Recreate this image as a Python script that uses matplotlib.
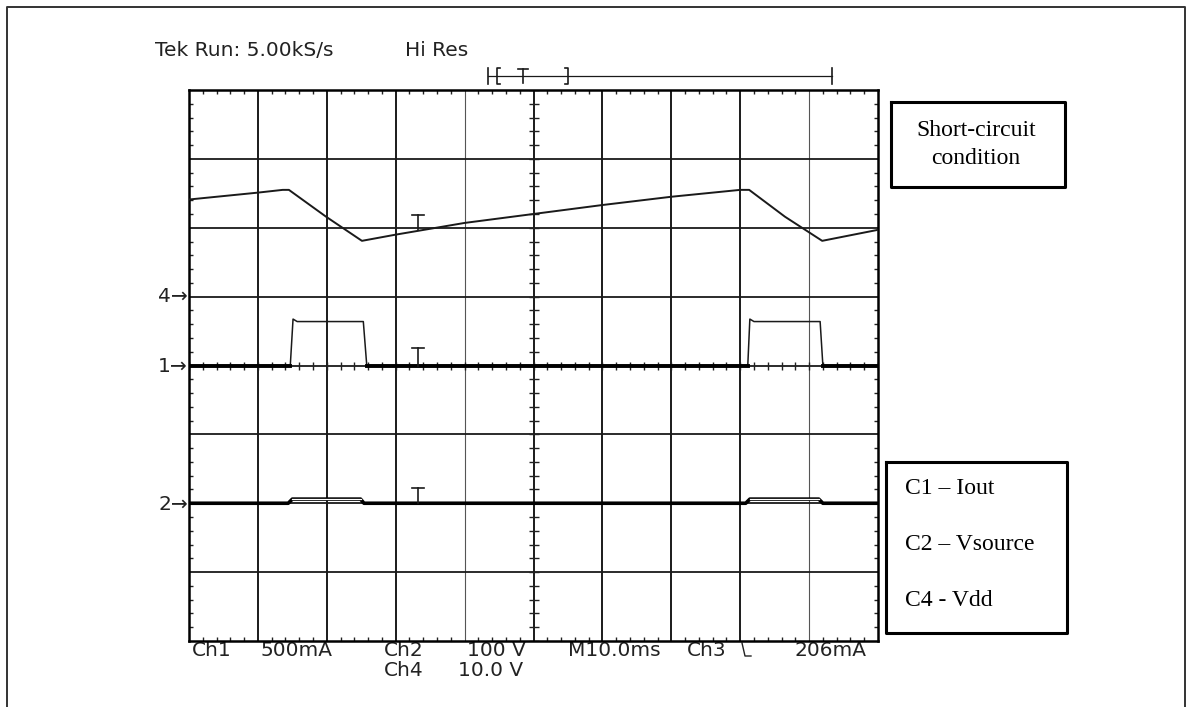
import matplotlib.pyplot as plt
import numpy as np

# scope settings
time_per_div = 10.0          # ms / div
ch4_scale, ch4_offset = 10.0, 1.0    # V/div, ground marker (div)
ch1_scale, ch1_offset = 500.0, 0.0   # mA/div
ch2_scale, ch2_offset = 100.0, -2.0  # V/div

# C4 - Vdd (triangle-like trace)
ch4_t = [0, 10.0, 13.6, 14.5, 19.9, 25.1, 30.0, 40.0, 50.0, 60.0, 70.0, 80.0, 81.3, 86.5, 91.9, 100.0]
ch4_v = [14.1, 15.1, 15.5, 15.5, 11.6, 8.1, 9.0, 10.7, 12.0, 13.3, 14.5, 15.5, 15.5, 11.6, 8.1, 9.7]

# C1 - Iout (pulses)
ch1_t = [0, 14.7, 15.1, 15.7, 25.3, 25.8, 81.1, 81.4, 82.0, 91.6, 92.0, 100.0]
ch1_i = [0, 0, 337, 319, 319, 0, 0, 337, 319, 319, 0, 0]

# C2 - Vsource (small bumps)
ch2_t = [0, 14.4, 15.0, 24.9, 25.4, 80.8, 81.4, 91.4, 92.0, 100.0]
ch2_v = [0, 0, 6, 6, 0, 0, 6, 6, 0, 0]

# trigger marks
trig_t = 33.2
trig_bottom = [1.97, 0.0, -2.0]
trig_top = [2.18, 0.26, -1.78]

top_labels = ["Tek Run: 5.00kS/s", "Hi Res"]
bottom_row1 = ["Ch1", "500mA", "Ch2", "100 V", "M10.0ms", "Ch3", "206mA"]
bottom_row2 = ["Ch4", "10.0 V"]
legend_lines = ["C1 \u2013 Iout", "C2 \u2013 Vsource", "C4 - Vdd"]

W, H = 1186, 707
fig = plt.figure(figsize=(W / 100, H / 100), dpi=100)

# background overlay in pixel coordinates
bg = fig.add_axes([0, 0, 1, 1])
bg.set_xlim(0, W)
bg.set_ylim(H, 0)
bg.axis("off")

# outer border
bg.plot([7, 7, 1185, 1185], [720, 7, 7, 720], color="#333333", lw=1.4)

# scope grid axes
x0, x1, y0, y1 = 189, 878, 90, 641
ax = fig.add_axes([x0 / W, 1 - y1 / H, (x1 - x0) / W, (y1 - y0) / H])
ax.set_xlim(0, 10 * time_per_div)
ax.set_ylim(-4, 4)
for s in ax.spines.values():
    s.set_linewidth(1.8)
    s.set_color("black")

xdiv = np.arange(0, 10 * time_per_div + 0.1, time_per_div)
ydiv = np.arange(-4, 4.1, 1)
ax.set_xticks(xdiv)
ax.set_yticks(ydiv)
ax.set_xticks(np.arange(0, 100.1, time_per_div / 5), minor=True)
ax.set_yticks(np.arange(-4, 4.01, 0.2), minor=True)
ax.tick_params(which="major", length=0, labelbottom=False, labelleft=False)
ax.tick_params(which="minor", direction="in", length=3, width=1.0,
               top=True, right=True, bottom=True, left=True, color="#222222")

for xv in xdiv[1:-1]:
    thin = xv in (40, 90)
    ax.axvline(xv, color="#555555" if thin else "#1a1a1a", lw=0.8 if thin else 1.4, zorder=1)
for yv in ydiv[1:-1]:
    ax.axhline(yv, color="#1a1a1a", lw=1.3, zorder=1)

# centre cross ticks
minor_x = np.arange(0, 100.1, time_per_div / 5)
minor_y = np.arange(-4, 4.01, 0.2)
ax.plot(minor_x, np.zeros_like(minor_x), ls="none", marker="|", ms=6, mew=1.0, color="#222222")
ax.plot(np.full_like(minor_y, 50.0), minor_y, ls="none", marker="_", ms=7, mew=1.0, color="#222222")

# traces
ch4_y = ch4_offset + np.array(ch4_v) / ch4_scale
ax.plot(ch4_t, ch4_y, color="#1a1a1a", lw=1.4, zorder=3)

ch1_y = ch1_offset + np.array(ch1_i) / ch1_scale
ax.plot(ch1_t, ch1_y, color="#1a1a1a", lw=1.1, zorder=3)
ax.plot(ch1_t, np.ma.masked_where(np.array(ch1_i) > 0, ch1_y), color="black", lw=2.8, zorder=3)

ch2_y = ch2_offset + np.array(ch2_v) / ch2_scale
ax.plot(ch2_t, ch2_y, color="black", lw=2.6, zorder=3)
ax.plot(ch2_t, np.ma.masked_where(np.array(ch2_v) < 6, ch2_y), color="white", lw=0.9, zorder=4)

# trigger 'T' marks
for b, t in zip(trig_bottom, trig_top):
    ax.plot([trig_t, trig_t], [b, t], color="#1a1a1a", lw=1.2, zorder=4)
    ax.plot([trig_t - 0.9, trig_t + 0.9], [t, t], color="#1a1a1a", lw=1.2, zorder=4)

# record bar at the top
bar_y = 75.5
bg.plot([488, 832], [bar_y, bar_y], color="#1a1a1a", lw=0.9)
for xb in (488, 832):
    bg.plot([xb, xb], [68, 84], color="#1a1a1a", lw=1.2)
bg.plot([500, 497, 497, 500], [68, 68, 84, 84], color="#1a1a1a", lw=1.2)
bg.plot([565, 568, 568, 565], [68, 68, 84, 84], color="#1a1a1a", lw=1.2)
bg.plot([518, 528], [69, 69], color="#1a1a1a", lw=1.2)
bg.plot([523, 523], [69, 83], color="#1a1a1a", lw=1.2)

# scope texts
tf = dict(family="DejaVu Sans", fontsize=14.5, color="#222222", va="center")
bg.text(155, 50, top_labels[0], **tf)
bg.text(405, 50, top_labels[1], **tf)

row1_x = [192, 260, 384, 467, 568, 687, 794]
for x, s in zip(row1_x, bottom_row1):
    bg.text(x, 650, s, **tf)
for x, s in zip([384, 458], bottom_row2):
    bg.text(x, 670, s, **tf)
# falling-edge trigger glyph after Ch3
bg.plot([742, 745, 751], [643, 656, 656], color="#222222", lw=1.0)

for lab, yv in zip(["4\u2192", "1\u2192", "2\u2192"], [297, 366, 504]):
    bg.text(188, yv, lab, ha="right", **tf)

# annotation boxes
bg.plot([891, 1065, 1065, 891, 891], [102, 102, 187, 187, 102], color="black", lw=2.2)
bg.plot([886, 1067, 1067, 886, 886], [462, 462, 633, 633, 462], color="black", lw=2.2)

sf = dict(family="Liberation Serif", fontsize=17, color="black", va="center")
bg.text(976, 131, "Short-circuit", ha="center", **sf)
bg.text(976, 159, "condition", ha="center", **sf)
for s, yv in zip(legend_lines, [489, 545, 601]):
    bg.text(905, yv, s, ha="left", **sf)

fig.savefig("out.png", dpi=100)
